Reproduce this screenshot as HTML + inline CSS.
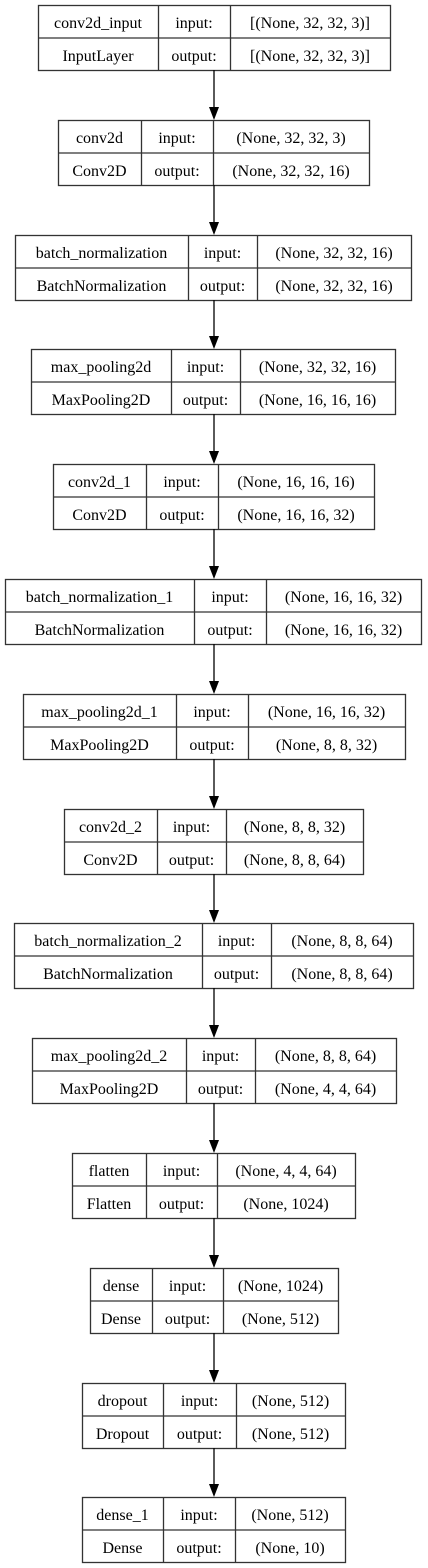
<!DOCTYPE html>
<html><head><meta charset="utf-8"><style>
html,body{margin:0;padding:0;background:#fff;width:428px;height:1568px;overflow:hidden}
svg text{font-family:"Liberation Serif",serif;font-size:16px;fill:#000}
</style></head><body>
<svg id="g" width="428" height="1568" xmlns="http://www.w3.org/2000/svg"></svg>
<script>
const layerNames=["conv2d_input","conv2d","batch_normalization","max_pooling2d","conv2d_1","batch_normalization_1","max_pooling2d_1","conv2d_2","batch_normalization_2","max_pooling2d_2","flatten","dense","dropout","dense_1"];
const layerTypes=["InputLayer","Conv2D","BatchNormalization","MaxPooling2D","Conv2D","BatchNormalization","MaxPooling2D","Conv2D","BatchNormalization","MaxPooling2D","Flatten","Dense","Dropout","Dense"];
const inputShapes=["[(None, 32, 32, 3)]","(None, 32, 32, 3)","(None, 32, 32, 16)","(None, 32, 32, 16)","(None, 16, 16, 16)","(None, 16, 16, 32)","(None, 16, 16, 32)","(None, 8, 8, 32)","(None, 8, 8, 64)","(None, 8, 8, 64)","(None, 4, 4, 64)","(None, 1024)","(None, 512)","(None, 512)"];
const outputShapes=["[(None, 32, 32, 3)]","(None, 32, 32, 16)","(None, 32, 32, 16)","(None, 16, 16, 16)","(None, 16, 16, 32)","(None, 16, 16, 32)","(None, 8, 8, 32)","(None, 8, 8, 64)","(None, 8, 8, 64)","(None, 4, 4, 64)","(None, 1024)","(None, 512)","(None, 512)","(None, 10)"];
const boxLeft=[38,58,15,31,53,5,23,64,14,32,72,90,82,82];
const boxRight=[390,369,411,395,374,421,405,363,413,396,355,338,345,345];
const col1=[158,141,188,171,146,194,176,157,202,186,146,152,163,163];
const col2=[230,213,257,240,218,266,248,226,271,255,217,223,236,235];
const NS="http://www.w3.org/2000/svg";
const svg=document.getElementById('g');
const top0=5,step=114.8,H=65,cx=214;
function mk(t,a){const e=document.createElementNS(NS,t);for(const k in a)e.setAttribute(k,a[k]);return e;}
function txt(x,y,s,p){const t=mk('text',{x:x,y:y,'text-anchor':'middle'});t.textContent=s;p.appendChild(t);return t;}
layerNames.forEach((n,i)=>{
  const y=Math.round(top0+i*step),l=boxLeft[i],r=boxRight[i],a=col1[i],b=col2[i];
  const g=mk('g',{});
  
  
  g.appendChild(mk('rect',{x:l+0.5,y:y+0.5,width:r-l,height:H,fill:'#fff',stroke:'#333','stroke-width':1.3}));
  g.appendChild(mk('line',{x1:l,y1:y+33,x2:r,y2:y+33,stroke:'#333','stroke-width':1.3}));
  g.appendChild(mk('line',{x1:a+0.5,y1:y,x2:a+0.5,y2:y+H,stroke:'#333','stroke-width':1.3}));
  g.appendChild(mk('line',{x1:b+0.5,y1:y,x2:b+0.5,y2:y+H,stroke:'#333','stroke-width':1.3}));
  txt((l+a)/2,y+23,n,g);txt((l+a)/2,y+56,layerTypes[i],g);
  txt((a+b)/2,y+23,'input:',g);txt((a+b)/2,y+56,'output:',g);
  txt((b+r)/2,y+23,inputShapes[i],g);txt((b+r)/2,y+56,outputShapes[i],g);
  svg.appendChild(g);
  if(i<layerNames.length-1){
    const ny=Math.round(top0+(i+1)*step);
    const ag=mk('g',{});
    
    
    ag.appendChild(mk('line',{x1:cx,y1:y+H,x2:cx,y2:ny-12,stroke:'#000','stroke-width':1.3}));
    ag.appendChild(mk('polygon',{points:`${cx-5},${ny-13} ${cx+5},${ny-13} ${cx},${ny}`,fill:'#000'}));
    svg.appendChild(ag);
  }
});
</script>
</body></html>
